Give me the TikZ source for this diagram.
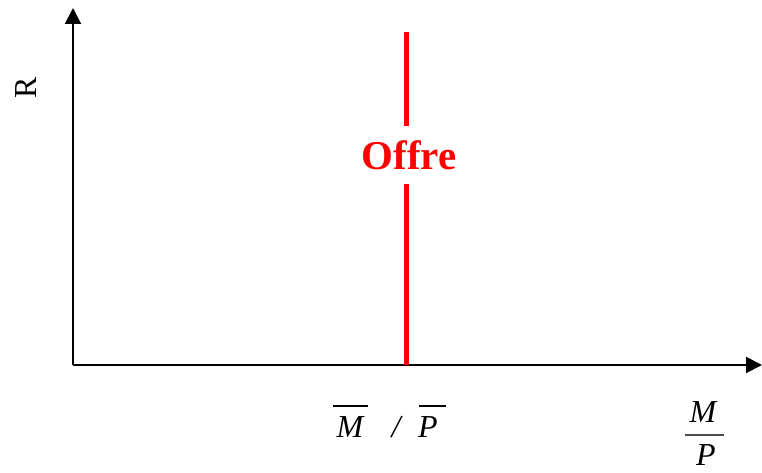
\documentclass[tikz,border=0pt]{standalone}
\usepackage{fontspec}
\setmainfont{Liberation Serif}
\usetikzlibrary{arrows.meta}
\begin{document}
\begin{tikzpicture}[x=1pt,y=1pt,
  axis/.style={line width=2pt,-{Triangle[length=16pt,width=16pt]}},
  offreline/.style={line width=5pt,red},
  lbl/.style={font=\fontsize{32}{38}\selectfont\itshape,inner sep=0pt,anchor=base}]
\useasboundingbox (0,0) rectangle (762,472);
\coordinate (o) at (73,107);
\coordinate (ytop) at (73,464);
\coordinate (xend) at (762,107);
\draw[axis] (o) -- (ytop);
\draw[axis] (o) -- (xend);
\coordinate (rtop) at (406,440);
\coordinate (rbot) at (406,107);
\node[text=red,font=\fontsize{41}{48}\selectfont\bfseries,inner sep=0pt,minimum height=58pt] (offre) at (409,317) {Offre};
\draw[offreline] (rtop) -- (rtop|-offre.north);
\draw[offreline] (rbot|-offre.south) -- (rbot);
\node[font=\fontsize{32}{38}\selectfont,rotate=90,inner sep=0pt] (R) at (26,384) {R};
\node[lbl] (mbar) at (350,35) {M};
\node[lbl] (slash) at (396,35) {/};
\node[lbl] (pbar) at (428,35) {P};
\draw[line width=1.5pt] ([xshift=-3pt]mbar.north west|-0,66) coordinate (m1) -- ([xshift=4pt]mbar.north east|-0,66) coordinate (m2);
\draw[line width=1.5pt] ([xshift=1pt]pbar.north west|-0,66) coordinate (p1) -- ([xshift=8pt]pbar.north east|-0,66) coordinate (p2);
\node[lbl] (fm) at (703,50) {M};
\node[lbl,text depth=0pt] (fp) at (706,7) {P};
\draw[line width=1.5pt,black!70] (685,37) coordinate (f1) -- (724,37) coordinate (f2);
\end{tikzpicture}
\end{document}
